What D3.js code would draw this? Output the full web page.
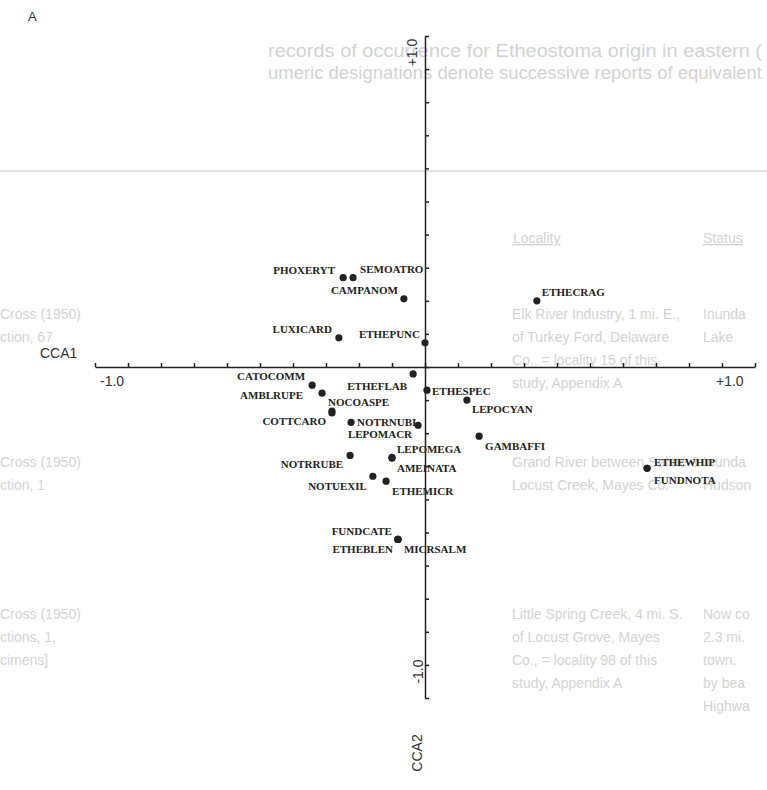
<!DOCTYPE html>
<html>
<head>
<meta charset="utf-8">
<script src="https://cdn.jsdelivr.net/npm/d3@7"></script>
<style>
  body { margin: 0; background: #fff; }
  svg { display: block; }
</style>
</head>
<body>
<script>
// species scores on the first two CCA axes
var species = ["PHOXERYT","SEMOATRO","CAMPANOM","ETHECRAG","LUXICARD","ETHEPUNC",
  "ETHEFLAB","CATOCOMM","ETHESPEC","AMBLRUPE","LEPOCYAN","NOCOASPE","COTTCARO",
  "NOTRNUBI","LEPOMACR","GAMBAFFI","LEPOMEGA","AMEINATA","NOTRRUBE","NOTUEXIL",
  "ETHEMICR","FUNDCATE","ETHEBLEN","MICRSALM","ETHEWHIP","FUNDNOTA"];
var cca1 = [-0.248,-0.218,-0.064,0.339,-0.261,0.000,
  -0.036,-0.342,0.006,-0.312,0.127,-0.282,-0.282,
  -0.224,-0.021,0.164,-0.100,-0.100,-0.227,-0.158,
  -0.118,-0.082,-0.082,-0.082,0.673,0.673];
var cca2 = [0.270,0.270,0.206,0.200,0.088,0.073,
  -0.021,-0.055,-0.070,-0.079,-0.100,-0.133,-0.139,
  -0.167,-0.176,-0.209,-0.273,-0.276,-0.267,-0.330,
  -0.345,-0.521,-0.521,-0.521,-0.306,-0.306];
var axisTicks = d3.range(-10, 11).map(function(i) { return i / 10; });

// text from the facing page showing through the scan
var ghostTop = ["records of occurrence for Etheostoma origin in eastern (",
  "umeric designations denote successive reports of equivalent"];
var ghostCite = [["Cross (1950)", "ction, 67"], ["Cross (1950)", "ction, 1"],
  ["Cross (1950)", "ctions, 1,", "cimens]"]];
var ghostPlace = [["Elk River Industry, 1 mi. E.,", "of Turkey Ford, Delaware",
  "Co., = locality 15 of this", "study, Appendix A"],
  ["Grand River between Saline &", "Locust Creek, Mayes Co."],
  ["Little Spring Creek, 4 mi. S.", "of Locust Grove, Mayes",
  "Co., = locality 98 of this", "study, Appendix A"]];
var ghostStatus = [["Inunda", "Lake"], ["Inunda", "Hudson"],
  ["Now co", "2.3 mi.", "town.", "by bea", "Highwa"]];

// label placement around each dot: [dx, dy, anchor]
var offs = {
  PHOXERYT: [-8,-7,"end"], SEMOATRO: [7,-8,"start"], CAMPANOM: [-6,-9,"end"],
  ETHECRAG: [5,-9,"start"], LUXICARD: [-7,-9,"end"], ETHEPUNC: [-5,-9,"end"],
  ETHEFLAB: [-6,12,"end"], CATOCOMM: [-7,-9,"end"], ETHESPEC: [5,1,"start"],
  AMBLRUPE: [-19,2,"end"], LEPOCYAN: [5,9,"start"], NOCOASPE: [-4,-9,"start"],
  COTTCARO: [-6,8,"end"], NOTRNUBI: [6,0,"start"], LEPOMACR: [-6,9,"end"],
  GAMBAFFI: [6,10,"start"], LEPOMEGA: [5,-8,"start"], AMEINATA: [5,10,"start"],
  NOTRRUBE: [-7,9,"end"], NOTUEXIL: [-6,10,"end"], ETHEMICR: [6,10,"start"],
  FUNDCATE: [-6,-8,"end"], ETHEBLEN: [-5,10,"end"], MICRSALM: [6,10,"start"],
  ETHEWHIP: [7,-6,"start"], FUNDNOTA: [7,12,"start"]
};

var width = 767, height = 790;

var svg = d3.select("body").append("svg")
    .attr("width", width)
    .attr("height", height);

// ghost text layer
var ghost = svg.append("g")
    .attr("fill", "#d3d3d3")
    .style("font-family", "'Liberation Sans', Arial, sans-serif")
    .style("font-size", "14px");

ghost.selectAll("text.top").data(ghostTop).enter().append("text")
    .attr("x", 268)
    .attr("y", function(d, i) { return 57 + i * 22; })
    .attr("textLength", 494)
    .attr("lengthAdjust", "spacingAndGlyphs")
    .style("font-size", "18px")
    .text(function(d) { return d; });

ghost.append("line")
    .attr("x1", 0).attr("x2", width)
    .attr("y1", 171).attr("y2", 171)
    .attr("stroke", "#e4e4e4")
    .attr("stroke-width", 2);

ghost.append("text").attr("x", 513).attr("y", 243)
    .style("text-decoration", "underline").text("Locality");
ghost.append("text").attr("x", 703).attr("y", 243)
    .style("text-decoration", "underline").text("Status");

var rowY = [319, 467, 619];
[[ghostCite, 0], [ghostPlace, 512], [ghostStatus, 703]].forEach(function(col) {
  col[0].forEach(function(lines, r) {
    ghost.selectAll(null).data(lines).enter().append("text")
        .attr("x", col[1])
        .attr("y", function(d, i) { return rowY[r] + i * 23; })
        .text(function(d) { return d; });
  });
});

// scales
var x = d3.scaleLinear().domain([-1, 1]).range([95, 755]);
var y = d3.scaleLinear().domain([-1, 1]).range([698, 36]);

svg.append("g")
    .attr("transform", "translate(0," + y(0) + ")")
    .call(d3.axisTop(x).tickValues(axisTicks).tickSize(4).tickSizeOuter(0).tickFormat(""));

svg.append("g")
    .attr("transform", "translate(" + x(0) + ",0)")
    .call(d3.axisRight(y).tickValues(axisTicks).tickSize(4).tickSizeOuter(0).tickFormat(""));

svg.selectAll(".domain, .tick line")
    .attr("stroke", "#222")
    .attr("stroke-width", 1.5);

// axis texts
var axText = svg.append("g")
    .attr("fill", "#333")
    .style("font-family", "'Liberation Sans', Arial, sans-serif")
    .style("font-size", "14px");

axText.append("text").attr("x", 28).attr("y", 21).style("font-size", "13px").text("A");
axText.append("text").attr("x", 40).attr("y", 358).text("CCA1");
axText.append("text").attr("x", 100).attr("y", 386).text("-1.0");
axText.append("text").attr("x", 716).attr("y", 386).text("+1.0");
axText.append("text")
    .attr("transform", "translate(" + (x(0) - 8) + "," + y(0.95) + ") rotate(-90)")
    .attr("text-anchor", "middle").text("+1.0");
axText.append("text")
    .attr("transform", "translate(" + (x(0) - 2) + "," + y(-0.92) + ") rotate(-90)")
    .attr("text-anchor", "middle").text("-1.0");
axText.append("text")
    .attr("transform", "translate(" + (x(0) - 3) + "," + 753 + ") rotate(-90)")
    .attr("text-anchor", "middle").text("CCA2");

// points
var pts = species.map(function(s, i) { return {name: s, a: cca1[i], b: cca2[i]}; });

svg.append("g").selectAll("circle")
    .data(pts).enter().append("circle")
    .attr("cx", function(d) { return x(d.a); })
    .attr("cy", function(d) { return y(d.b); })
    .attr("r", 3.6)
    .attr("fill", "#222");

svg.append("g")
    .attr("fill", "#222")
    .style("font-family", "'Liberation Serif', 'Times New Roman', serif")
    .style("font-size", "11px")
    .style("font-weight", "bold")
  .selectAll("text")
    .data(pts).enter().append("text")
    .attr("x", function(d) { return x(d.a) + offs[d.name][0]; })
    .attr("y", function(d) { return y(d.b) + offs[d.name][1]; })
    .attr("dy", "0.35em")
    .attr("text-anchor", function(d) { return offs[d.name][2]; })
    .text(function(d) { return d.name; });
</script>
</body>
</html>
